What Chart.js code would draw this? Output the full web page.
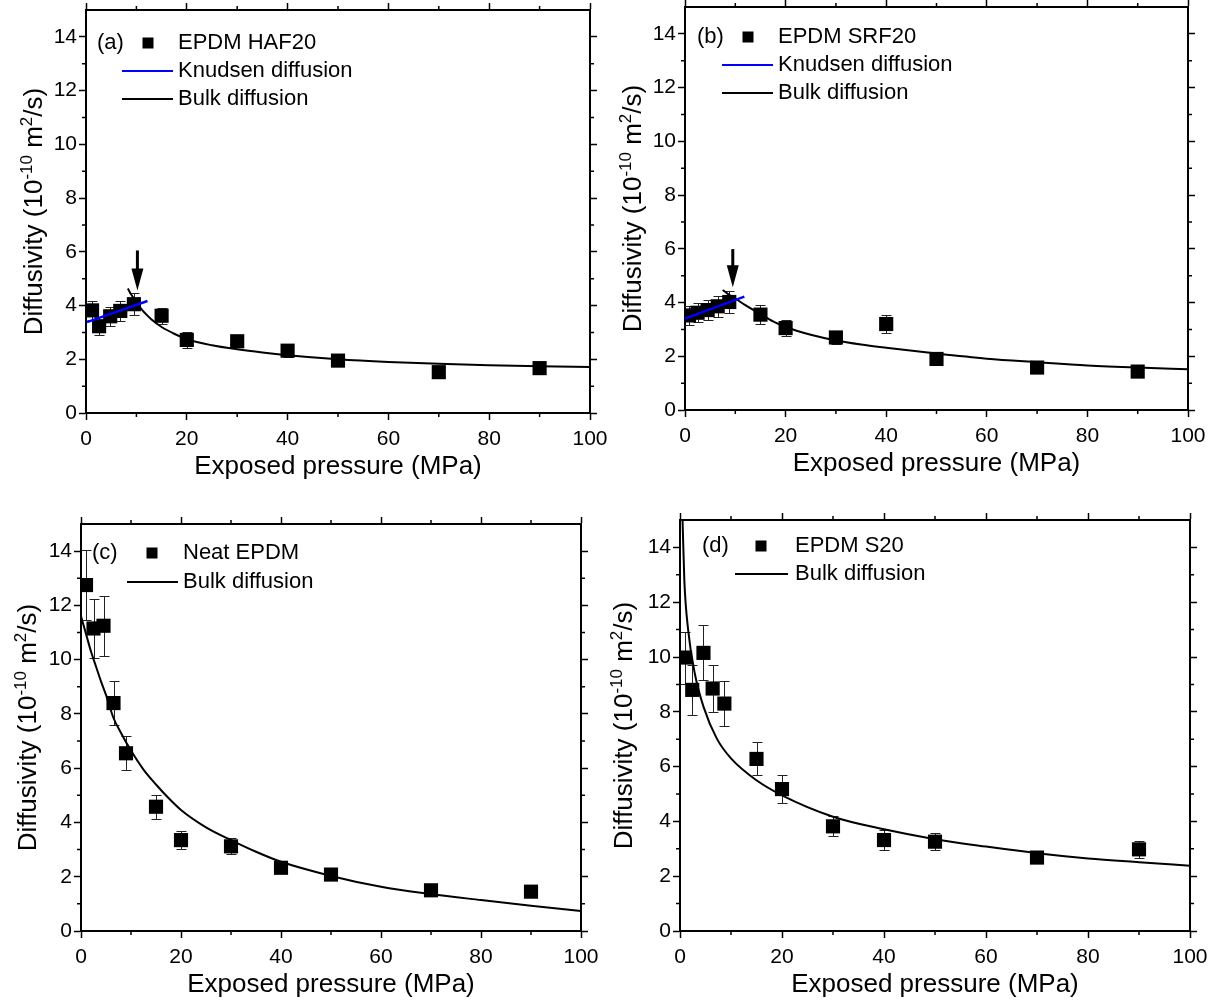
<!DOCTYPE html>
<html>
<head>
<meta charset="utf-8">
<script src="https://cdn.jsdelivr.net/npm/chart.js@4.4.1/dist/chart.umd.min.js"></script>
<style>
  html, body { margin: 0; padding: 0; background: #fff; overflow: hidden; }
  body { position: relative; width: 1217px; height: 1000px; }
  canvas { position: absolute; }
</style>
</head>
<body>
<canvas id="chartA" width="624" height="508" style="left:-9px;top:-15px"></canvas>
<canvas id="chartB" width="623" height="508" style="left:590px;top:-18px"></canvas>
<canvas id="chartC" width="620" height="512" style="left:-14px;top:499px"></canvas>
<canvas id="chartD" width="630" height="516" style="left:585px;top:495px"></canvas>
<script>
// --- (a) EPDM HAF20 ---
const pressureA = [1.2, 2.6, 4.8, 6.8, 9.5, 15, 20, 30, 40, 50, 70, 90];
const diffA = [3.82, 3.23, 3.6, 3.8, 4.05, 3.62, 2.72, 2.67, 2.32, 1.95, 1.52, 1.67];
const errA = [0.35, 0.33, 0.35, 0.38, 0.4, 0.3, 0.3, 0.2, 0.25, 0.12, 0.12, 0.12];
const knudsenAx = [0.2, 12.2];
const knudsenAy = [3.38, 4.17];
const bulkAx = [8.3, 9, 10, 11, 12, 13, 15, 17.5, 20, 25, 30, 35, 40, 50, 60, 70, 80, 90, 100];
const bulkAy = [4.63, 4.4, 4.12, 3.87, 3.66, 3.48, 3.2, 2.95, 2.75, 2.52, 2.37, 2.25, 2.15, 2.0, 1.9, 1.83, 1.78, 1.74, 1.71];
const arrowA = { x: 10.2, from: 6.05, to: 4.56 };

// --- (b) EPDM SRF20 ---
const pressureB = [0.8, 2.5, 4.5, 6.5, 8.8, 15, 20, 30, 40, 50, 70, 90];
const diffB = [3.52, 3.62, 3.72, 3.86, 4.02, 3.55, 3.05, 2.7, 3.2, 1.9, 1.58, 1.43];
const errB = [0.35, 0.36, 0.38, 0.38, 0.4, 0.35, 0.3, 0.25, 0.32, 0.12, 0.12, 0.12];
const knudsenBx = [0, 11.8];
const knudsenBy = [3.4, 4.22];
const bulkBx = [7.5, 8.5, 10, 12, 15, 17.5, 20, 25, 30, 35, 40, 50, 60, 70, 80, 90, 100];
const bulkBy = [4.47, 4.32, 4.15, 3.9, 3.57, 3.3, 3.09, 2.8, 2.59, 2.44, 2.32, 2.1, 1.91, 1.78, 1.66, 1.58, 1.52];
const arrowB = { x: 9.5, from: 5.99, to: 4.57 };

// --- (c) Neat EPDM ---
const pressureC = [1, 2.5, 4.5, 6.5, 9, 15, 20, 30, 40, 50, 70, 90];
const diffC = [12.75, 11.15, 11.25, 8.4, 6.55, 4.58, 3.35, 3.12, 2.33, 2.08, 1.5, 1.45];
const errC = [1.28, 1.1, 1.1, 0.8, 0.63, 0.45, 0.32, 0.3, 0.15, 0.12, 0.12, 0.12];
const bulkCx = [0, 1, 2, 3, 4, 5, 6.5, 8, 10, 12.5, 15, 17.5, 20, 25, 30, 35, 40, 50, 60, 70, 80, 90, 100];
const bulkCy = [11.6, 10.95, 10.3, 9.75, 9.2, 8.7, 7.85, 7.3, 6.65, 5.95, 5.4, 4.9, 4.46, 3.82, 3.35, 2.92, 2.55, 2.03, 1.63, 1.36, 1.14, 0.93, 0.74];

// --- (d) EPDM S20 ---
const pressureD = [1, 2.4, 4.6, 6.4, 8.7, 15, 20, 30, 40, 50, 70, 90];
const diffD = [9.98, 8.8, 10.15, 8.85, 8.3, 6.28, 5.18, 3.82, 3.32, 3.26, 2.68, 2.98];
const errD = [0.95, 0.9, 1.0, 0.87, 0.82, 0.6, 0.52, 0.37, 0.35, 0.3, 0.2, 0.3];
const bulkDx = [0.5, 0.85, 1.6, 2.9, 4.6, 7.2, 10, 15, 20, 30, 40, 50, 60, 70, 80, 90, 100];
const bulkDy = [15, 12.8, 10.98, 9.4, 8.19, 7.03, 6.3, 5.5, 4.95, 4.17, 3.71, 3.35, 3.08, 2.84, 2.65, 2.51, 2.38];

const xTitle = 'Exposed pressure (MPa)';
// y title pieces: [text, superscript?]
const yTitleParts = [['Diffusivity (10', false], ['-10', true], [' m', false], ['2', true], ['/s)', false]];

const FONT = "'Liberation Sans', Arial, sans-serif";
Chart.defaults.font.family = FONT;
Chart.defaults.color = '#000';

const pts = (xs, ys) => xs.map((x, i) => ({ x: x, y: ys[i] }));

// vertical error bars under the squares
const errorBars = {
  id: 'errorBars',
  beforeDatasetsDraw(chart) {
    const { ctx, scales: { x, y } } = chart;
    chart.data.datasets.forEach(ds => {
      if (!ds.errors) return;
      ctx.save();
      ctx.strokeStyle = '#222';
      ctx.lineWidth = 1;
      ds.data.forEach((p, i) => {
        const e = ds.errors[i];
        const px = Math.round(x.getPixelForValue(p.x)) + 0.5;
        const t = Math.round(y.getPixelForValue(p.y + e)) + 0.5;
        const b = Math.round(y.getPixelForValue(p.y - e)) + 0.5;
        ctx.beginPath();
        ctx.moveTo(px, t); ctx.lineTo(px, b);
        ctx.moveTo(px - 5, t); ctx.lineTo(px + 5, t);
        ctx.moveTo(px - 5, b); ctx.lineTo(px + 5, b);
        ctx.stroke();
      });
      ctx.restore();
    });
  }
};

// short minor ticks on all four sides
const minorTicks = {
  id: 'minorTicks',
  afterDraw(chart) {
    const { ctx, chartArea: a, scales: { x, y } } = chart;
    ctx.save();
    ctx.strokeStyle = '#000';
    ctx.lineWidth = 1.5;
    ctx.beginPath();
    for (let v = 10; v < 100; v += 20) {
      const px = x.getPixelForValue(v);
      ctx.moveTo(px, a.bottom); ctx.lineTo(px, a.bottom + 4);
      ctx.moveTo(px, a.top); ctx.lineTo(px, a.top - 4);
    }
    for (let v = 1; v < 15; v += 2) {
      const py = y.getPixelForValue(v);
      ctx.moveTo(a.left, py); ctx.lineTo(a.left - 4, py);
      ctx.moveTo(a.right, py); ctx.lineTo(a.right + 4, py);
    }
    ctx.stroke();
    ctx.restore();
  }
};

// rotated y title with real superscripts
const yTitleSup = {
  id: 'yTitleSup',
  afterDraw(chart, args, o) {
    const { ctx, chartArea: a } = chart;
    const big = '26px ' + FONT, small = '17px ' + FONT;
    ctx.save();
    let total = 0;
    yTitleParts.forEach(([t, sup]) => { ctx.font = sup ? small : big; total += ctx.measureText(t).width; });
    ctx.translate(a.left - o.offset, (a.top + a.bottom) / 2);
    ctx.rotate(-Math.PI / 2);
    ctx.fillStyle = '#000';
    ctx.textBaseline = 'alphabetic';
    ctx.textAlign = 'left';
    let cx = -total / 2;
    yTitleParts.forEach(([t, sup]) => {
      ctx.font = sup ? small : big;
      ctx.fillText(t, cx, sup ? -1 : 9);
      cx += ctx.measureText(t).width;
    });
    ctx.restore();
  }
};

// the down arrow marking the transition
const arrowMark = {
  id: 'arrowMark',
  afterDatasetsDraw(chart, args, o) {
    if (!o || o.x == null) return;
    const { ctx, scales: { x, y } } = chart;
    const px = x.getPixelForValue(o.x);
    const top = y.getPixelForValue(o.from);
    const tip = y.getPixelForValue(o.to);
    ctx.save();
    ctx.strokeStyle = '#000';
    ctx.fillStyle = '#000';
    ctx.lineWidth = 3;
    ctx.beginPath();
    ctx.moveTo(px, top); ctx.lineTo(px, tip - 20);
    ctx.stroke();
    ctx.beginPath();
    ctx.moveTo(px - 6, tip - 22);
    ctx.lineTo(px + 6, tip - 22);
    ctx.lineTo(px, tip);
    ctx.closePath();
    ctx.fill();
    ctx.restore();
  }
};

// legend block inside the plot, with the panel tag
const panelKey = {
  id: 'panelKey',
  afterDraw(chart, args, o) {
    const { ctx, chartArea: a } = chart;
    ctx.save();
    ctx.font = '22px ' + FONT;
    ctx.fillStyle = '#000';
    ctx.textBaseline = 'middle';
    ctx.textAlign = 'left';
    ctx.fillText(o.tag, a.left + o.tagX, a.top + o.rowY);
    chart.data.datasets.forEach((ds, i) => {
      const ry = a.top + o.rowY + i * o.gap;
      if (ds.showLine) {
        ctx.strokeStyle = ds.borderColor;
        ctx.lineWidth = 2;
        ctx.beginPath();
        ctx.moveTo(a.left + o.lineX0, ry);
        ctx.lineTo(a.left + o.lineX1, ry);
        ctx.stroke();
      } else {
        ctx.fillRect(a.left + o.markX - 5.5, ry - 5.5, 11, 11);
      }
      ctx.fillText(ds.label, a.left + o.textX, ry);
    });
    ctx.restore();
  }
};

function axis(pos, horizontal, labelled) {
  const s = {
    type: 'linear',
    position: pos,
    min: 0,
    max: horizontal ? 100 : 15,
    border: { display: true, color: '#000', width: 2 },
    grid: { display: true, drawOnChartArea: false, drawTicks: true, tickLength: 7, tickWidth: 1.5, tickColor: '#000' },
    ticks: {
      stepSize: horizontal ? 20 : 2,
      autoSkip: false,
      maxRotation: 0,
      includeBounds: false,
      font: { size: 21 },
      color: '#000',
      padding: horizontal ? 7 : 2,
      callback: labelled ? (v => v) : (() => '')
    },
    afterFit: sc => {
      if (horizontal) sc.height = pos === 'bottom' ? 80 : 25;
      else sc.width = pos === 'left' ? 95 : 25;
    }
  };
  if (labelled && horizontal) {
    s.title = {
      display: true,
      text: xTitle,
      font: { size: 26 },
      color: '#000',
      padding: { top: 0, bottom: 11 }
    };
  }
  return s;
}

function makeChart(id, datasets, key, titleOffset, arrow) {
  return new Chart(document.getElementById(id), {
    type: 'scatter',
    data: { datasets: datasets },
    options: {
      responsive: false,
      animation: false,
      devicePixelRatio: 1,
      layout: { padding: 0 },
      scales: {
        x: axis('bottom', true, true),
        y: axis('left', false, true),
        x2: axis('top', true, false),
        y2: axis('right', false, false)
      },
      plugins: {
        legend: { display: false },
        tooltip: { enabled: false },
        panelKey: key,
        yTitleSup: { offset: titleOffset },
        arrowMark: arrow || {}
      }
    },
    plugins: [errorBars, arrowMark, minorTicks, panelKey, yTitleSup]
  });
}

function squares(label, xs, ys, errs) {
  return {
    label: label,
    data: pts(xs, ys),
    errors: errs,
    showLine: false,
    pointStyle: 'rect',
    pointRadius: 10,
    backgroundColor: '#000',
    borderColor: '#000',
    borderWidth: 0,
    order: 0
  };
}

function curve(label, xs, ys, color, order) {
  return {
    label: label,
    data: pts(xs, ys),
    showLine: true,
    pointRadius: 0,
    borderColor: color,
    borderWidth: order < 0 ? 2.5 : 2,
    cubicInterpolationMode: 'monotone',
    order: order
  };
}

makeChart('chartA', [
  squares('EPDM HAF20', pressureA, diffA, errA),
  curve('Knudsen diffusion', knudsenAx, knudsenAy, '#0000ff', -1),
  curve('Bulk diffusion', bulkAx, bulkAy, '#000', 1)
], { tag: '(a)', tagX: 11, rowY: 33, markX: 62, lineX0: 36, lineX1: 87, textX: 92, gap: 28 }, 53, arrowA);

makeChart('chartB', [
  squares('EPDM SRF20', pressureB, diffB, errB),
  curve('Knudsen diffusion', knudsenBx, knudsenBy, '#0000ff', -1),
  curve('Bulk diffusion', bulkBx, bulkBy, '#000', 1)
], { tag: '(b)', tagX: 12, rowY: 30, markX: 63, lineX0: 37, lineX1: 88, textX: 93, gap: 28 }, 53, arrowB);

makeChart('chartC', [
  squares('Neat EPDM', pressureC, diffC, errC),
  curve('Bulk diffusion', bulkCx, bulkCy, '#000', 1)
], { tag: '(c)', tagX: 11, rowY: 29, markX: 71, lineX0: 46, lineX1: 97, textX: 102, gap: 29 }, 54);

makeChart('chartD', [
  squares('EPDM S20', pressureD, diffD, errD),
  curve('Bulk diffusion', bulkDx, bulkDy, '#000', 1)
], { tag: '(d)', tagX: 22, rowY: 26, markX: 81, lineX0: 55, lineX1: 108, textX: 115, gap: 28 }, 57);
</script>
</body>
</html>
